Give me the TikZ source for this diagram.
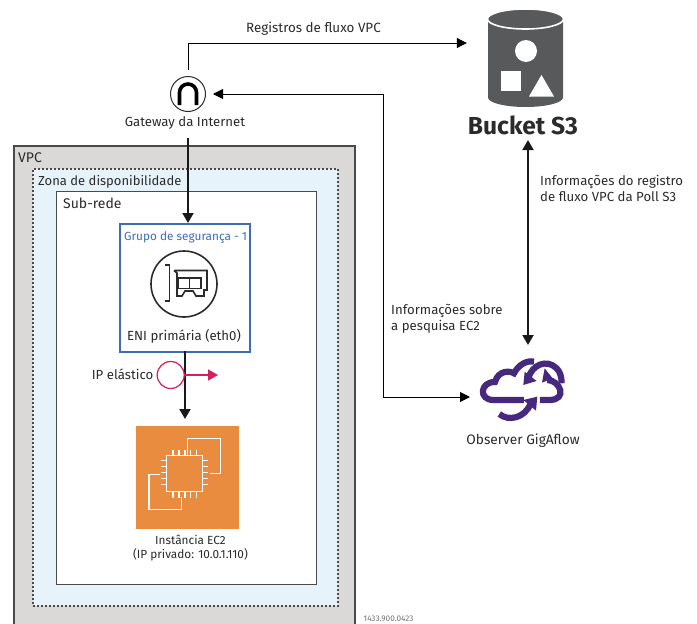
\documentclass[tikz,border=0pt]{standalone}
\usepackage{fontspec}
\setmainfont{Fira Sans}
\usetikzlibrary{arrows.meta,calc}
\definecolor{vpcgray}{HTML}{DAD9D8}
\definecolor{zoneblue}{HTML}{E6F3FA}
\definecolor{darkline}{HTML}{4A4A4A}
\definecolor{txt}{HTML}{2B2B2B}
\definecolor{sgblue}{HTML}{3F6DB5}
\definecolor{orangebox}{HTML}{EA8C40}
\definecolor{bucketgray}{HTML}{58595B}
\definecolor{pinkred}{HTML}{D81E5B}
\definecolor{purplec}{HTML}{46287F}
\tikzset{
  x=1pt,y=-1pt,
  lbl/.style={font=\fontsize{13.2}{15.8}\selectfont,text=txt,inner sep=0pt,align=left},
  clbl/.style={lbl,align=center},
  thinarrow/.style={draw=black,line width=1pt,-{Triangle[length=10pt,width=10pt]}},
  thickarrow/.style={draw=black!90,line width=2pt,-{Triangle[length=10pt,width=11pt]}},
  region/.style={inner sep=0pt,anchor=north west},
  hidden/.style={inner sep=0pt,draw=none,anchor=center},
}
\begin{document}
\begin{tikzpicture}
\useasboundingbox (0,0) rectangle (697,624);
% regions
\fill[vpcgray] (14,146) rectangle (355,624);
\draw[darkline,line width=1.4pt] (14,624) -- (14,146) -- (355,146) -- (355,624);
\node[region,fill=zoneblue,draw=darkline,line width=1.5pt,dash pattern=on 2pt off 2pt,minimum width=305pt,minimum height=437pt] (zone) at (32,168) {};
\node[region,fill=white,draw=darkline,line width=1.4pt,minimum width=260pt,minimum height=393pt] (subnet) at (56,191) {};
\node[lbl,anchor=west,font=\fontsize{14}{16}\selectfont] (vpclbl) at (18,158) {VPC};
\node[lbl,anchor=west,font=\fontsize{13}{15}\selectfont] (zonelbl) at (38,181.5) {Zona de disponibilidade};
\node[lbl,anchor=west,font=\fontsize{14}{16}\selectfont] (subnetlbl) at (63,203) {Sub-rede};
% security group
\node[region,fill=white,draw=sgblue,line width=1.6pt,minimum width=130pt,minimum height=128pt] (sg) at (119,223) {};
\node[lbl,anchor=west,text=sgblue,font=\fontsize{11.8}{14}\selectfont] (sglbl) at (124,237.5) {Grupo de segurança - 1};
\node[circle,draw=txt,line width=1.6pt,minimum size=66pt,inner sep=0pt] (eni) at (184,284) {};
\draw[txt,line width=1.6pt] (165,265) -- (169.5,265) -- (169.5,301) -- (165,301);
\draw[txt,line width=1.6pt] (174,270.5) -- (207,270.5) -- (207,290) -- (204,290) -- (204,296) -- (196,296) -- (193,291) -- (185,291) -- (182,296) -- (177,296) -- (177,273) -- (174,270.5);
\draw[txt,line width=1.6pt] (178,278) rectangle (201,288.5);
\draw[txt,line width=1.6pt] (189.5,278) -- (189.5,288.5);
\node[clbl] (enilbl) at (184,336) {ENI primária (eth0)};
% EC2
\node[region,fill=orangebox,minimum width=103pt,minimum height=103pt] (ec2) at (136,426) {};
\begin{scope}[white,line width=1.2pt]
\draw (166.7,455.7) rectangle (202.3,491.7);
\draw (187.7,455) -- (187.7,438.7) -- (220.3,438.7) -- (220.3,473.3) -- (209.5,473.3);
\draw (160,474.3) -- (149,474.3) -- (149,509.3) -- (181.7,509.3) -- (181.7,497);
\foreach \p in {173,179,185,190.7,196.5}{
  \draw (\p,450) -- (\p,455.7);
  \draw (\p,491.7) -- (\p,497.5);
}
\foreach \p in {460.5,466.5,472.5,478.5,484.5}{
  \draw (161,\p) -- (166.7,\p);
  \draw (202.3,\p) -- (208,\p);
}
\end{scope}
\node[clbl,font=\fontsize{11.8}{14}\selectfont] (ec2lbl) at (190.5,548.5) {Instância EC2\\(IP privado: 10.0.1.110)};
% gateway
\node[circle,draw=txt,line width=1pt,fill=white,minimum size=35pt,inner sep=0pt] (gw) at (188,94) {};
\draw[black,line width=3.6pt] (179.5,105) -- (179.5,92.5) arc[start angle=180,end angle=360,radius=8.5] -- (196.5,105);
\node[clbl] (gwlbl) at (185,123) {Gateway da Internet};
% bucket
\node[hidden,minimum width=75pt,minimum height=98pt] (bucket) at (525.5,58) {};
\fill[bucketgray] (488,20) -- (488,97.5) arc[start angle=180,end angle=0,x radius=37.5,y radius=9.5] -- (563,20) -- cycle;
\draw[white,line width=1.6pt,fill=bucketgray] (525.5,19) ellipse[x radius=38,y radius=10];
\fill[white] (526,51) circle[radius=11];
\fill[white] (501,71) rectangle (521,91);
\fill[white] (529,96.5) -- (554,96.5) -- (541.5,75) -- cycle;
\node[clbl,font=\bfseries\fontsize{24.6}{28}\selectfont] (bucketlbl) at (523,125.5) {Bucket S3};
% observer
\node[hidden,minimum width=90pt,minimum height=68pt] (obs) at (522,387) {};
\begin{scope}[shift={(460,350)},x=0.3333pt,y=-0.3333pt,draw=purplec,line width=6.2pt,fill=purplec]
\draw (192,150) -- (100,150) .. controls (55,150) and (60,95) .. (105,96) .. controls (115,60) and (150,62) .. (162,70) .. controls (175,45) and (200,30) .. (222,35);
\draw (205,85) .. controls (215,45) and (260,25) .. (290,55) .. controls (300,65) and (305,80) .. (305,100);
\fill (190,105) -- (194,65) -- (230,93) -- cycle;
\draw (262,90) .. controls (300,90) and (325,150) .. (268,150) -- (240,150);
\fill (254,55) -- (246,98) -- (278,85) -- cycle;
\draw (118,192) .. controls (145,215) and (195,205) .. (212,160);
\fill (232,140) -- (190,150) -- (228,182) -- cycle;
\end{scope}
\node[clbl,font=\fontsize{13.7}{16}\selectfont] (obslbl) at (523,441) {Observer GigAflow};
% connectors
\coordinate (topline) at (188,43);
\coordinate (rightbend) at (383,94);
\coordinate (obstip) at (470,397);
\draw[thinarrow,shorten <=6pt,shorten >=21pt] (gw.north) -- (topline) -- (bucket.west |- topline);
\draw[thinarrow,{Triangle[length=10pt,width=10pt]}-{Triangle[length=10pt,width=10pt]},shorten <=7pt] (gw.east) -- (rightbend) -- (rightbend |- obstip) -- (obstip);
\coordinate (gwlow) at (188,138);
\draw[thickarrow] (gwlow) -- (sg.north -| gwlow);
\coordinate (sgdrop) at (185,351);
\coordinate (ec2top) at (185,419);
\draw[thickarrow] (sgdrop) -- (ec2top);
\node[circle,draw=pinkred,fill=white,line width=1.2pt,minimum size=27pt,inner sep=0pt] (eip) at (170.7,375) {};
\coordinate (eiptip) at (218,375);
\draw[draw=pinkred,line width=1.5pt,-{Triangle[length=10pt,width=11pt]}] (eip.east) -- (eiptip);
\node[lbl,anchor=east] (eiplbl) at (153.5,374.5) {IP elástico};
\coordinate (buckbot) at (528,140);
\coordinate (obstop) at (528,345);
\draw[thickarrow,{Triangle[length=10pt,width=11pt]}-{Triangle[length=10pt,width=11pt]}] (buckbot) -- (obstop);
% labels
\node[lbl,anchor=center,font=\fontsize{13.4}{16}\selectfont] (flow) at (313.5,29) {Registros de fluxo VPC};
\node[lbl,anchor=north west] (poll) at (540,175) {Informações do registro\\de fluxo VPC da Poll S3};
\node[lbl,anchor=north west] (ec2q) at (391,304) {Informações sobre\\a pesquisa EC2};
\node[lbl,anchor=west,font=\fontsize{8.2}{9}\selectfont,text=black!55] (code) at (363.5,619) {1433.900.0423};
\end{tikzpicture}
\end{document}
